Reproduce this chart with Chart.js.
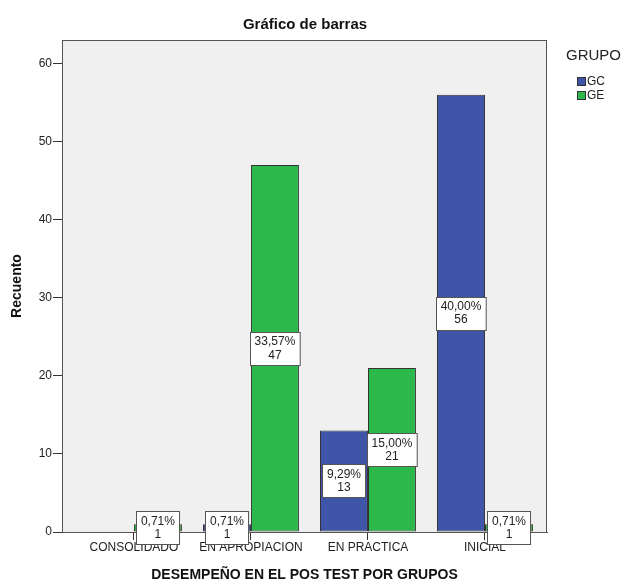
<!DOCTYPE html>
<html lang="es">
<head>
    <meta charset="UTF-8">
    <title>Gráfico de barras</title>
    <script src="https://cdn.jsdelivr.net/npm/chart.js@4.4.1/dist/chart.umd.min.js"></script>
    <style>
        body { margin: 0; background: #fff; }
        canvas { display: block; }
    </style>
</head>
<body>
    <canvas id="barChart" width="623" height="584"></canvas>

    <script>
        const categorias = ['CONSOLIDADO', 'EN APROPIACION', 'EN PRACTICA', 'INICIAL'];
        const grupos = ['GC', 'GE'];
        const valoresGC = [0, 1, 13, 56];
        const valoresGE = [1, 47, 21, 1];
        const ticksY = [0, 10, 20, 30, 40, 50, 60];

        const total = valoresGC.concat(valoresGE).reduce((a, b) => a + b, 0);
        const fuente = '"Liberation Sans", Arial, sans-serif';

        function toPoints(valores) {
            return valores.map((v, i) => ({ x: i + 1, y: v > 0 ? v : null }));
        }

        // fondo gris y marco del area de trazado
        const plotFrame = {
            id: 'plotFrame',
            beforeDraw(chart) {
                const { ctx, chartArea: a } = chart;
                ctx.save();
                ctx.fillStyle = '#f0f0f0';
                ctx.fillRect(a.left, a.top, a.right - a.left, a.bottom - a.top);
                ctx.strokeStyle = '#555';
                ctx.lineWidth = 1;
                ctx.strokeRect(a.left + 0.5, a.top + 0.5, a.right - a.left - 1, a.bottom - a.top);
                ctx.restore();
            },
            afterDraw(chart) {
                const { ctx } = chart;
                ctx.save();
                // titulo
                ctx.fillStyle = '#111';
                ctx.font = 'bold 15px ' + fuente;
                ctx.textAlign = 'center';
                ctx.textBaseline = 'middle';
                ctx.fillText('Gráfico de barras', 305, 25);
                // leyenda
                ctx.textAlign = 'left';
                ctx.font = '15px ' + fuente;
                ctx.fillStyle = '#222';
                ctx.fillText('GRUPO', 566, 56);
                chart.data.datasets.forEach((ds, i) => {
                    const y = 77 + i * 14;
                    ctx.fillStyle = ds.backgroundColor;
                    ctx.fillRect(577, y, 9, 9);
                    ctx.strokeStyle = '#333';
                    ctx.strokeRect(577.5, y + 0.5, 8, 8);
                    ctx.fillStyle = '#222';
                    ctx.font = '12px ' + fuente;
                    ctx.fillText(ds.label, 587, y + 5);
                });
                ctx.restore();
            }
        };

        // etiquetas con porcentaje y recuento
        const barLabels = {
            id: 'barLabels',
            afterDatasetsDraw(chart) {
                const { ctx } = chart;
                ctx.save();
                ctx.font = '12px ' + fuente;
                ctx.textAlign = 'center';
                ctx.textBaseline = 'middle';
                chart.data.datasets.forEach((ds, di) => {
                    const meta = chart.getDatasetMeta(di);
                    meta.data.forEach((el, i) => {
                        const v = ds.data[i].y;
                        if (!v) return;
                        const pct = (v / total * 100).toFixed(2).replace('.', ',') + '%';
                        const w = Math.max(ctx.measureText(pct).width, ctx.measureText(String(v)).width) + 9;
                        const h = 33;
                        const cx = el.x;
                        const cy = (el.y + el.base) / 2;
                        const x0 = Math.round(cx - w / 2) + 0.5;
                        const y0 = Math.round(cy - h / 2) + 0.5;
                        ctx.fillStyle = '#fff';
                        ctx.fillRect(x0, y0, w, h);
                        ctx.strokeStyle = '#555';
                        ctx.lineWidth = 1;
                        ctx.strokeRect(x0, y0, w, h);
                        ctx.fillStyle = '#222';
                        ctx.fillText(pct, cx, cy - 6.5);
                        ctx.fillText(String(v), cx, cy + 7);
                    });
                });
                ctx.restore();
            }
        };

        const ctx = document.getElementById('barChart').getContext('2d');
        new Chart(ctx, {
            type: 'bar',
            data: {
                datasets: [
                    {
                        label: grupos[0],
                        data: toPoints(valoresGC),
                        backgroundColor: '#3e55a8',
                        borderColor: '#333',
                        borderWidth: 1,
                        borderSkipped: false
                    },
                    {
                        label: grupos[1],
                        data: toPoints(valoresGE),
                        backgroundColor: '#2db84b',
                        borderColor: '#333',
                        borderWidth: 1,
                        borderSkipped: false
                    }
                ]
            },
            options: {
                responsive: false,
                animation: false,
                layout: { padding: { top: 40, left: 0, right: 76, bottom: 0 } },
                datasets: { bar: { categoryPercentage: 0.82, barPercentage: 1 } },
                plugins: {
                    legend: { display: false },
                    tooltip: { enabled: false }
                },
                scales: {
                    x: {
                        type: 'linear',
                        offset: false,
                        min: 0.385,
                        max: 4.53,
                        afterBuildTicks: (scale) => {
                            scale.ticks = categorias.map((c, i) => ({ value: i + 1 }));
                        },
                        afterFit: (scale) => { scale.height = 52; },
                        ticks: {
                            autoSkip: false,
                            maxRotation: 0,
                            padding: 0,
                            color: '#222',
                            font: { family: fuente, size: 12 },
                            callback: (v) => categorias[v - 1]
                        },
                        grid: { offset: false, drawOnChartArea: false, drawTicks: true, tickLength: 8, color: '#333' },
                        border: { display: true, color: '#555' },
                        title: {
                            display: true,
                            text: 'DESEMPEÑO EN EL POS TEST POR GRUPOS',
                            color: '#111',
                            padding: { top: 0, bottom: 0 },
                            font: { family: fuente, size: 14, weight: 'bold' }
                        }
                    },
                    y: {
                        min: 0,
                        max: 63,
                        afterBuildTicks: (scale) => {
                            scale.ticks = ticksY.map(v => ({ value: v }));
                        },
                        afterFit: (scale) => { scale.width = 62; },
                        ticks: {
                            padding: 1,
                            color: '#222',
                            font: { family: fuente, size: 12 }
                        },
                        grid: { drawOnChartArea: false, drawTicks: true, tickLength: 9, color: '#333' },
                        border: { display: true, color: '#555' },
                        title: {
                            display: true,
                            text: 'Recuento',
                            color: '#111',
                            padding: { top: 9, bottom: 0 },
                            font: { family: fuente, size: 14, weight: 'bold' }
                        }
                    }
                }
            },
            plugins: [plotFrame, barLabels]
        });
    </script>
</body>
</html>
